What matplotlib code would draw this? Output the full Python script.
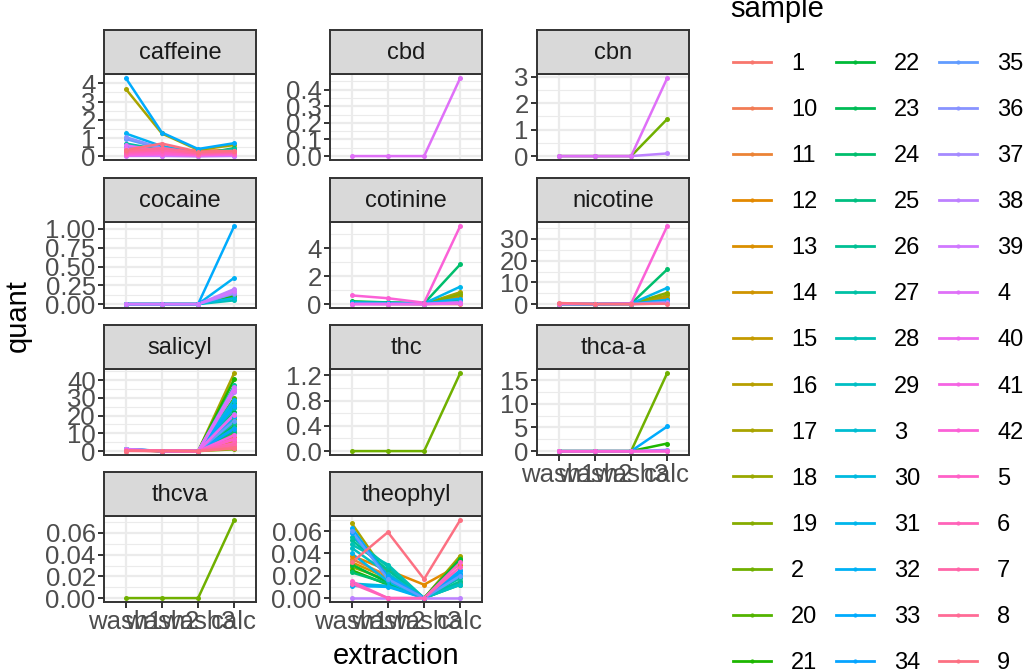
import numpy as np
import matplotlib
matplotlib.use("Agg")
import matplotlib.pyplot as plt
from matplotlib.lines import Line2D

plt.rcParams['font.family'] = ['Liberation Sans', 'DejaVu Sans']

# ---- data ----
extraction = ["wash1", "wash2", "wash3", "calc"]
samples = sorted(str(i) for i in range(1, 43))   # factor order (as strings)
compounds = ["caffeine", "cbd", "cbn", "cocaine", "cotinine", "nicotine",
             "salicyl", "thc", "thca-a", "thcva", "theophyl"]

caffeine = {
    "33": [4.30, 1.30, 0.40, 0.72],
    "17": [3.70, 1.25, 0.35, 0.62],
    "32": [1.25, 0.55, 0.20, 0.25],
    "36": [1.05, 0.45, 0.15, 0.20],
    "35": [0.95, 0.40, 0.12, 0.18],
    "27": [0.70, 0.35, 0.10, 0.40],
    "24": [0.65, 0.30, 0.08, 0.45],
    "31": [0.55, 0.25, 0.06, 0.15],
    "4":  [0.60, 0.30, 0.10, 0.12],
    "40": [0.45, 0.20, 0.08, 0.10],
    "1":  [0.40, 0.55, 0.20, 0.30],
    "11": [0.30, 0.40, 0.30, 0.35],
    "12": [0.25, 0.20, 0.10, 0.20],
    "22": [0.20, 0.10, 0.05, 0.15],
    "29": [0.35, 0.15, 0.05, 0.10],
    "3":  [0.15, 0.10, 0.05, 0.08],
    "20": [0.10, 0.05, 0.02, 0.05],
    "38": [0.05, 0.03, 0.01, 0.03],
    "39": [0.02, 0.02, 0.01, 0.02],
    "41": [0.05, 0.10, 0.05, 0.10],
    "42": [0.10, 0.15, 0.08, 0.12],
    "5":  [0.15, 0.20, 0.10, 0.15],
    "6":  [0.20, 0.30, 0.15, 0.20],
    "7":  [0.25, 0.35, 0.15, 0.22],
    "8":  [0.30, 0.45, 0.20, 0.28],
    "9":  [0.35, 0.70, 0.25, 0.30],
}
cbd = {"4": [0.0, 0.0, 0.0, 0.47]}
cbn = {
    "2":  [0.0, 0.0, 0.0, 1.40],
    "38": [0.0, 0.0, 0.0, 0.10],
    "4":  [0.0, 0.0, 0.0, 2.95],
}
cocaine = {
    "19": [0.0, 0.0, 0.0, 0.12],
    "21": [0.0, 0.0, 0.0, 0.10],
    "28": [0.0, 0.0, 0.0, 0.05],
    "30": [0.0, 0.0, 0.0, 0.08],
    "32": [0.0, 0.0, 0.0, 0.35],
    "33": [0.0, 0.0, 0.0, 1.04],
    "35": [0.0, 0.0, 0.0, 0.14],
    "37": [0.0, 0.0, 0.0, 0.15],
    "38": [0.0, 0.0, 0.0, 0.20],
    "39": [0.0, 0.0, 0.0, 0.17],
}
cotinine = {
    "1":  [0.02, 0.01, 0.00, 0.00],
    "14": [0.03, 0.02, 0.01, 0.55],
    "17": [0.05, 0.03, 0.02, 0.85],
    "19": [0.05, 0.03, 0.02, 0.70],
    "22": [0.20, 0.12, 0.05, 0.30],
    "24": [0.15, 0.10, 0.05, 2.85],
    "28": [0.12, 0.08, 0.04, 0.20],
    "31": [0.10, 0.08, 0.05, 1.25],
    "32": [0.08, 0.05, 0.03, 0.40],
    "36": [0.02, 0.02, 0.01, 0.15],
    "4":  [0.00, 0.00, 0.00, 0.05],
    "40": [0.00, 0.00, 0.00, 0.10],
    "42": [0.62, 0.42, 0.10, 5.60],
}
nicotine = {
    "14": [0.0, 0.0, 0.0, 3.0],
    "17": [0.0, 0.0, 0.0, 4.0],
    "19": [0.0, 0.0, 0.1, 5.2],
    "22": [0.1, 0.0, 0.1, 1.5],
    "24": [0.1, 0.0, 0.2, 16.0],
    "31": [0.1, 0.0, 0.2, 7.5],
    "32": [0.0, 0.0, 0.1, 2.0],
    "36": [0.0, 0.0, 0.0, 1.0],
    "39": [0.0, 0.0, 0.0, 0.3],
    "42": [0.2, 0.1, 0.3, 36.0],
    "9":  [0.5, 0.0, 0.0, 0.2],
}
salicyl = {
    "1":  [0.8, 0.1, 0.0, 3.0],
    "10": [0.5, 0.1, 0.0, 5.0],
    "11": [0.6, 0.1, 0.0, 8.0],
    "12": [0.4, 0.1, 0.0, 12.0],
    "13": [0.5, 0.1, 0.0, 6.0],
    "14": [0.3, 0.1, 0.0, 15.0],
    "15": [0.4, 0.1, 0.0, 10.0],
    "16": [0.6, 0.1, 0.0, 20.0],
    "17": [0.7, 0.1, 0.0, 44.0],
    "18": [0.5, 0.1, 0.0, 25.0],
    "19": [0.3, 0.1, 0.0, 1.0],
    "2":  [0.4, 0.1, 0.0, 18.0],
    "20": [0.6, 0.1, 0.0, 30.0],
    "21": [0.8, 0.1, 0.0, 40.5],
    "22": [0.5, 0.1, 0.0, 22.0],
    "23": [0.4, 0.1, 0.0, 14.0],
    "24": [0.9, 0.1, 0.0, 27.0],
    "25": [0.5, 0.1, 0.0, 11.0],
    "26": [1.0, 0.1, 0.0, 37.0],
    "27": [0.6, 0.1, 0.0, 16.0],
    "28": [0.7, 0.1, 0.0, 24.0],
    "29": [0.8, 0.1, 0.0, 28.0],
    "3":  [0.5, 0.1, 0.0, 13.0],
    "30": [0.9, 0.1, 0.0, 26.0],
    "31": [1.2, 0.1, 0.0, 29.0],
    "32": [0.7, 0.1, 0.0, 19.0],
    "33": [1.0, 0.1, 0.0, 25.5],
    "34": [0.6, 0.1, 0.0, 12.5],
    "35": [0.7, 0.1, 0.0, 17.0],
    "36": [0.8, 0.1, 0.0, 21.0],
    "37": [0.9, 0.1, 0.0, 33.0],
    "38": [1.0, 0.1, 0.0, 35.0],
    "39": [1.1, 0.1, 0.0, 36.0],
    "4":  [0.8, 0.1, 0.0, 34.0],
    "40": [0.6, 0.1, 0.0, 20.5],
    "41": [0.5, 0.1, 0.0, 9.0],
    "42": [0.4, 0.1, 0.0, 7.0],
    "5":  [0.3, 0.1, 0.0, 6.5],
    "6":  [0.3, 0.1, 0.0, 4.5],
    "7":  [0.2, 0.1, 0.0, 3.5],
    "8":  [0.2, 0.1, 0.0, 2.0],
    "9":  [0.1, 0.1, 0.0, 1.5],
}
thc = {"2": [0.0, 0.0, 0.0, 1.24]}
thca_a = {
    "2":  [0.0, 0.0, 0.0, 16.5],
    "21": [0.0, 0.0, 0.0, 1.6],
    "33": [0.0, 0.0, 0.0, 5.2],
    "36": [0.0, 0.0, 0.0, 0.25],
    "40": [0.0, 0.0, 0.0, 0.05],
    "42": [0.0, 0.0, 0.0, 0.0],
}
thcva = {"2": [0.0, 0.0, 0.0, 0.072]}
theophyl = {
    "11": [0.035, 0.020, 0.000, 0.013],
    "12": [0.038, 0.025, 0.012, 0.030],
    "14": [0.032, 0.018, 0.000, 0.014],
    "17": [0.067, 0.020, 0.000, 0.038],
    "19": [0.028, 0.016, 0.000, 0.036],
    "21": [0.025, 0.012, 0.000, 0.033],
    "22": [0.030, 0.014, 0.000, 0.035],
    "24": [0.023, 0.013, 0.000, 0.012],
    "26": [0.052, 0.025, 0.000, 0.015],
    "27": [0.055, 0.028, 0.000, 0.018],
    "28": [0.048, 0.030, 0.000, 0.013],
    "29": [0.045, 0.022, 0.000, 0.012],
    "30": [0.013, 0.011, 0.000, 0.020],
    "31": [0.040, 0.015, 0.000, 0.024],
    "32": [0.011, 0.010, 0.000, 0.022],
    "33": [0.063, 0.018, 0.000, 0.025],
    "34": [0.058, 0.020, 0.000, 0.022],
    "35": [0.060, 0.017, 0.000, 0.020],
    "38": [0.000, 0.000, 0.000, 0.000],
    "5":  [0.015, 0.000, 0.000, 0.032],
    "6":  [0.013, 0.000, 0.000, 0.028],
    "9":  [0.032, 0.059, 0.017, 0.070],
}

panel_data = {
    "caffeine": caffeine, "cbd": cbd, "cbn": cbn, "cocaine": cocaine,
    "cotinine": cotinine, "nicotine": nicotine, "salicyl": salicyl,
    "thc": thc, "thca-a": thca_a, "thcva": thcva, "theophyl": theophyl,
}

# y breaks and label decimals per facet
y_breaks = {
    "caffeine": ([0, 1, 2, 3, 4], 0),
    "cbd": ([0.0, 0.1, 0.2, 0.3, 0.4], 1),
    "cbn": ([0, 1, 2, 3], 0),
    "cocaine": ([0.0, 0.25, 0.5, 0.75, 1.0], 2),
    "cotinine": ([0, 2, 4], 0),
    "nicotine": ([0, 10, 20, 30], 0),
    "salicyl": ([0, 10, 20, 30, 40], 0),
    "thc": ([0.0, 0.4, 0.8, 1.2], 1),
    "thca-a": ([0, 5, 10, 15], 0),
    "thcva": ([0.0, 0.02, 0.04, 0.06], 2),
    "theophyl": ([0.0, 0.02, 0.04, 0.06], 2),
}


# ggplot-style hue palette (hcl, c=100, l=65)
def hue_pal(n, c=100.0, l=65.0):
    h = np.deg2rad((15 + 360 * np.arange(n) / n) % 360)
    wx, wy, wz = 95.047, 100.0, 108.883
    Y = wy * ((l + 16) / 116) ** 3
    t = wx + wy + wz
    x, y = wx / t, wy / t
    un = 2 * x / (6 * y - x + 1.5)
    vn = 4.5 * y / (6 * y - x + 1.5)
    u = c * np.cos(h) / (13 * l) + un
    v = c * np.sin(h) / (13 * l) + vn
    X = 9.0 * Y * u / (4 * v)
    Z = -X / 3 - 5 * Y + 3 * Y / v
    rgb = np.stack([
        (3.240479 * X - 1.537150 * Y - 0.498535 * Z) / wy,
        (-0.969256 * X + 1.875992 * Y + 0.041556 * Z) / wy,
        (0.055648 * X - 0.204043 * Y + 1.057311 * Z) / wy,
    ], axis=1)
    rgb = np.where(rgb > 0.00304, 1.055 * np.abs(rgb) ** (1 / 2.4) - 0.055, 12.92 * rgb)
    return np.clip(rgb, 0, 1)


pal = hue_pal(len(samples))
colors = {s: pal[i] for i, s in enumerate(samples)}

# ---- layout (pixels) ----
W, H = 1023, 670
fig = plt.figure(figsize=(W / 100, H / 100), dpi=100)

col_x = [104, 330, 537]
row_top = [74, 222, 369, 516]
pw, ph, strip_h = 152, 86, 44
bottom_panels = {"thca-a", "thcva", "theophyl"}

grey20 = "#333333"
grey30 = "#4D4D4D"
grid_col = "#EBEBEB"
xpos = np.arange(1, len(extraction) + 1)


def px_axes(x, y, w, h):
    return fig.add_axes([x / W, 1 - (y + h) / H, w / W, h / H])


for k, name in enumerate(compounds):
    r, c = divmod(k, 3)
    ax = px_axes(col_x[c], row_top[r], pw, ph)
    data = panel_data[name]

    for s in samples:
        if s in data:
            ax.plot(xpos, data[s], color=colors[s], lw=1.8, zorder=2,
                    solid_capstyle="butt")
    for s in samples:
        if s in data:
            ax.plot(xpos, data[s], ls="none", marker="o", ms=3.6,
                    mew=0, color=colors[s], zorder=3)

    vals = np.concatenate([np.asarray(v, float) for v in data.values()])
    lo, hi = vals.min(), vals.max()
    pad = 0.05 * (hi - lo)
    ax.set_ylim(lo - pad, hi + pad)
    ax.set_xlim(0.4, len(extraction) + 0.6)

    breaks, dec = y_breaks[name]
    step = breaks[1] - breaks[0]
    minors = np.arange(breaks[0] - step / 2, breaks[-1] + step, step)
    minors = [m for m in minors if lo - pad <= m <= hi + pad]
    ax.set_yticks(breaks)
    ax.set_yticklabels([f"{b:.{dec}f}" for b in breaks])
    for m in minors:
        ax.axhline(m, color=grid_col, lw=0.8, zorder=0)
    for b in breaks:
        ax.axhline(b, color=grid_col, lw=1.6, zorder=0)
    for xp in xpos:
        ax.axvline(xp, color=grid_col, lw=1.6, zorder=0)

    ax.set_xticks(xpos)
    if name in bottom_panels:
        ax.set_xticklabels(extraction)
        ax.tick_params(axis="x", length=4, width=1.4, color=grey20,
                       labelsize=18.5, labelcolor=grey30, pad=2)
    else:
        ax.tick_params(axis="x", length=0, labelbottom=False)
    ax.tick_params(axis="y", length=4, width=1.4, color=grey20,
                   labelsize=18.5, labelcolor=grey30, pad=2)
    for sp in ax.spines.values():
        sp.set_color(grey20)
        sp.set_linewidth(1.4)

    # facet strip
    sax = px_axes(col_x[c], row_top[r] - strip_h, pw, strip_h)
    sax.set_facecolor("#D9D9D9")
    sax.set_xticks([])
    sax.set_yticks([])
    for sp in sax.spines.values():
        sp.set_color(grey20)
        sp.set_linewidth(1.4)
    sax.text(0.5, 0.48, name, ha="center", va="center", fontsize=17,
             color="#1A1A1A", transform=sax.transAxes)

fig.text(396 / W, 1 - 656 / H, "extraction", ha="center", va="center",
         fontsize=21)
fig.text(18 / W, 1 - 316 / H, "quant", ha="center", va="center",
         rotation=90, fontsize=21)

# legend: title placed on its own, keys in three columns
fig.text(730 / W, 1 - 17 / H, "sample", ha="left", va="baseline",
         fontsize=21)
handles = [Line2D([0], [0], color=colors[s], lw=2.0, marker="o", ms=3,
                  mew=0) for s in samples]
fig.legend(handles, samples, ncol=3, frameon=False, fontsize=17,
           loc="upper left", bbox_to_anchor=(733 / W, 1 - 53 / H),
           borderaxespad=0, borderpad=0,
           handlelength=1.6, handletextpad=0.85, columnspacing=0.80,
           labelspacing=1.02)

fig.savefig("out.png", dpi=100)
